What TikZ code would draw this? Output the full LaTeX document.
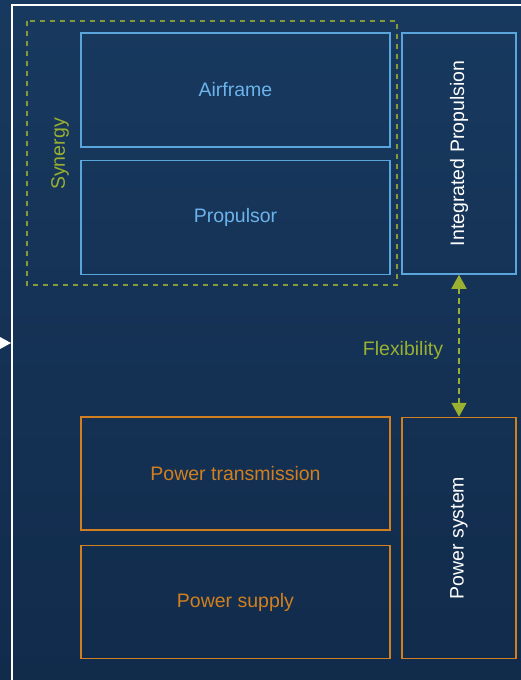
\documentclass[tikz,border=0pt]{standalone}
\usepackage{fontspec}
\setmainfont{Liberation Sans}
\usetikzlibrary{arrows.meta}

\definecolor{bgtop}{HTML}{18395F}
\definecolor{bgbot}{HTML}{112B4B}
\definecolor{skyline}{HTML}{5AA5DC}
\definecolor{skytext}{HTML}{6BB3EA}
\definecolor{amber}{HTML}{D2801F}
\definecolor{olive}{HTML}{9AB030}
\definecolor{olivedash}{HTML}{869A3A}

\tikzset{
  blk/.style={draw, line width=1.5pt, minimum width=#1, inner sep=0pt, font=\fontsize{19.5}{22}\selectfont},
  airblk/.style={blk=309pt, draw=skyline, text=skytext, minimum height=114pt},
  pwrblk/.style={blk=309pt, draw=amber, text=amber, minimum height=113pt},
  sideblk/.style={draw, line width=1.5pt, minimum width=114pt, minimum height=241pt, inner sep=0pt},
  sidelabel/.style={text=white, rotate=90, font=\fontsize{19.5}{22}\selectfont},
  flex/.style={draw=olive, line width=1.6pt, dash pattern=on 6pt off 4pt,
    {Triangle[width=15pt,length=14pt,fill=olive,sharp]}-{Triangle[width=15pt,length=14pt,fill=olive,sharp]}},
}

\begin{document}
\begin{tikzpicture}[x=1pt,y=-1pt]
  % canvas with a vertical gradient
  \shade[top color=bgtop, bottom color=bgbot] (0,0) rectangle (521,680);
  \useasboundingbox (0,0) rectangle (521,680);

  % outer white frame running off the page
  \draw[white, line width=2pt] (12,700) -- (12,5) -- (540,5);
  % entry marker on the frame
  \fill[white] (0,337) -- (11,343) -- (0,349) -- cycle;

  % synergy group
  \draw[olivedash, line width=1.5pt, dash pattern=on 5pt off 5pt] (27,21) rectangle (397,285);
  \node[text=olive, rotate=90, font=\fontsize{19.5}{22}\selectfont] (syn) at (60,154) {Synergy};

  % airframe / propulsor blocks
  \node[airblk] (air) at (235.5,90) {Airframe};
  \node[airblk] (prop) at (235.5,217.5) {Propulsor};
  \node[sideblk, draw=skyline] (ip) at (459,153.5) {};
  \node[sidelabel] at (ip.center) {Integrated Propulsion};

  % power blocks
  \node[pwrblk] (trans) at (235.5,473.5) {Power transmission};
  \node[pwrblk] (supply) at (235.5,602) {Power supply};
  \node[sideblk, draw=amber] (ps) at (459,538) {};
  \node[sidelabel] at (ps.center) {Power system};

  % flexibility link
  \draw[flex] (ip.south) -- (ps.north);
  \node[text=olive, font=\fontsize{19.5}{22}\selectfont] (flexlbl) at (403,350) {Flexibility};
\end{tikzpicture}
\end{document}
